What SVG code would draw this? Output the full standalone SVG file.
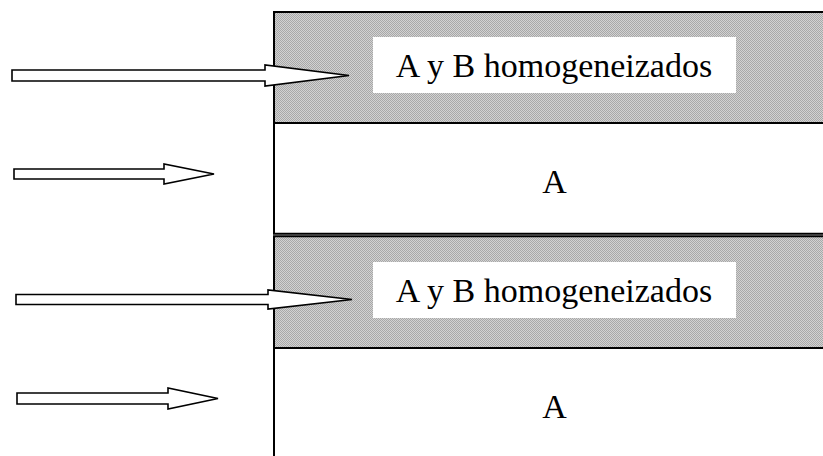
<svg xmlns="http://www.w3.org/2000/svg" width="823" height="456" viewBox="0 0 823 456">
  <defs>
    <!-- fine dithered grey used for the mixed layers -->
    <pattern id="dither" width="2" height="2" patternUnits="userSpaceOnUse">
      <rect width="2" height="2" fill="#d2d2d2"/>
      <rect x="0" y="0" width="1" height="1" fill="#a8a8a8"/>
      <rect x="1" y="1" width="1" height="1" fill="#a8a8a8"/>
    </pattern>
    <style>
      .mixed { fill: url(#dither); stroke: #000; stroke-width: 2; }
      .plain { fill: #fff; stroke: #000; stroke-width: 2; }
      .tag { fill: #fff; stroke: none; }
      .lbl { font-size: 34px; fill: #000; }
      .arrow { fill: #fff; stroke: #000; stroke-width: 1.6; stroke-linejoin: miter; }
    </style>
  </defs>

  <rect width="823" height="456" fill="#fff"/>

  <!-- layer 1: mixed -->
  <g id="layer-mixed-1">
    <rect class="mixed" x="274" y="12" width="560" height="111"/>
    <rect class="tag" x="373" y="37" width="363" height="56"/>
    <text class="lbl" font-family="Liberation Serif" x="554" y="77" text-anchor="middle">A y B homogeneizados</text>
  </g>

  <!-- layer 2: A -->
  <g id="layer-a-1">
    <rect class="plain" x="274" y="123" width="560" height="110.75" stroke-width="1.5"/>
    <text class="lbl" font-family="Liberation Serif" x="554.5" y="193" text-anchor="middle">A</text>
  </g>

  <!-- layer 3: mixed -->
  <g id="layer-mixed-2">
    <rect class="mixed" x="274" y="236.25" width="560" height="111.75" stroke-width="1.5"/>
    <rect class="tag" x="373" y="262" width="363" height="56"/>
    <text class="lbl" font-family="Liberation Serif" x="554" y="302" text-anchor="middle">A y B homogeneizados</text>
  </g>

  <!-- layer 4: A -->
  <g id="layer-a-2">
    <rect class="plain" x="274" y="348" width="560" height="120"/>
    <text class="lbl" font-family="Liberation Serif" x="554.5" y="418" text-anchor="middle">A</text>
  </g>

  <!-- block arrows -->
  <g id="connectors">
    <polygon class="arrow" points="12,70 265,70 265,65 349,75.5 265,86 265,81 12,81"/>
    <polygon class="arrow" points="14,169 164,169 164,164 214,174 164,184 164,179 14,179"/>
    <polygon class="arrow" points="16,294.5 268,294.5 268,290 352,299.5 268,309 268,304.5 16,304.5"/>
    <polygon class="arrow" points="17,393 168,393 168,388 218,398.5 168,409 168,404 17,404"/>
  </g>
</svg>
